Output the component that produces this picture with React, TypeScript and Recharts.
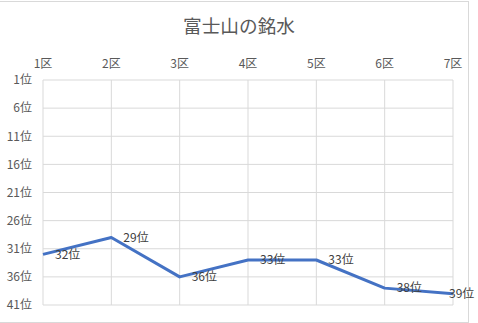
import { CartesianGrid, LabelList, Line, LineChart, XAxis, YAxis } from "recharts";

const sections = ["1区", "2区", "3区", "4区", "5区", "6区", "7区"];
const ranks = [32, 29, 36, 33, 33, 38, 39];
const rankTicks = [1, 6, 11, 16, 21, 26, 31, 36, 41];

const data = sections.map((name, i) => ({ name, rank: ranks[i] }));

const font = '"Noto Sans CJK JP", "Noto Sans", sans-serif';

// Excel pushes the last label back inside the chart area
function RankLabel(props: any) {
  const { x, y, value } = props;
  const left = Math.min(Number(x) + 12, 449);
  return (
    <text
      x={left}
      y={Number(y)}
      dy="0.35em"
      fill="#404040"
      fontSize={12}
      fontFamily={font}
    >
      {`${value}位`}
    </text>
  );
}

export default function App() {
  return (
    <div
      style={{
        position: "absolute",
        left: 0,
        top: 0,
        width: 478,
        height: 323,
        background: "#fff",
        fontFamily: font,
      }}
    >
      <div
        style={{
          position: "absolute",
          left: -2,
          top: 1,
          width: 469,
          height: 320,
          border: "1px solid #d9d9d9",
        }}
      />
      <div
        style={{
          position: "absolute",
          top: 12,
          left: 0,
          width: 478,
          textAlign: "center",
          fontSize: 18.67,
          color: "#595959",
          lineHeight: "26px",
        }}
      >
        富士山の銘水
      </div>
      <LineChart
        width={478}
        height={323}
        data={data}
        margin={{ top: 50, right: 25, bottom: 18, left: 0 }}
        style={{ position: "absolute", left: 0, top: 0 }}
      >
        <CartesianGrid stroke="#d9d9d9" />
        <XAxis
          dataKey="name"
          orientation="top"
          scale="point"
          padding={{ left: 0, right: 0 }}
          height={30}
          axisLine={false}
          tickLine={false}
          tickSize={0}
          tickMargin={12}
          interval={0}
          tick={{ fill: "#595959", fontSize: 12, fontFamily: font }}
        />
        <YAxis
          type="number"
          reversed
          domain={[1, 41]}
          ticks={rankTicks}
          interval={0}
          width={43}
          axisLine={false}
          tickLine={false}
          tickSize={0}
          tickMargin={11}
          tickFormatter={(v) => `${v}位`}
          tick={{ fill: "#595959", fontSize: 12, fontFamily: font }}
        />
        <Line
          type="linear"
          dataKey="rank"
          stroke="#4472c4"
          strokeWidth={3}
          strokeLinejoin="round"
          dot={false}
          isAnimationActive={false}
        >
          <LabelList dataKey="rank" content={RankLabel} />
        </Line>
      </LineChart>
    </div>
  );
}
